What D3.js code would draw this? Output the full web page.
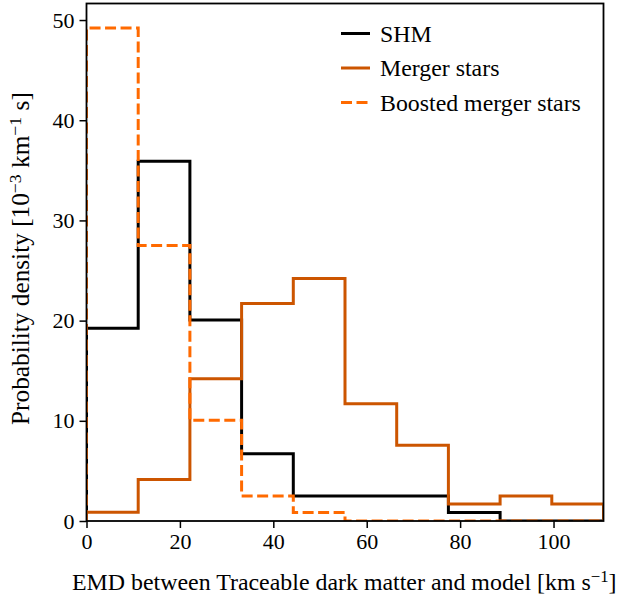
<!DOCTYPE html>
<html><head><meta charset="utf-8">
<script src="https://cdn.jsdelivr.net/npm/d3@7"></script>
<style>body{margin:0;background:#fff}svg{display:block}</style>
</head><body>
<script>
const binEdges = [0, 11.07, 22.14, 33.21, 44.28, 55.35, 66.42, 77.49, 88.56, 99.63, 110.7];
const shmValues = [19.25, 35.9, 20.05, 6.7, 2.5, 2.5, 2.5, 0.85, 0, 0];
const mergerValues = [0.87, 4.15, 14.2, 21.7, 24.2, 11.7, 7.55, 1.7, 2.5, 1.7];
const boostedValues = [49.2, 27.5, 10.05, 2.5, 0.85, 0, 0, 0, 0, 0];
const xTicks = [0, 20, 40, 60, 80, 100];
const yTicks = [0, 10, 20, 30, 40, 50];
const seriesNames = ["SHM", "Merger stars", "Boosted merger stars"];

const W = 621, H = 599;
const m = {l: 86.5, r: 603.5, t: 3.5, b: 521};
const svg = d3.select("body").append("svg").attr("width", W).attr("height", H);
const FONT = '"Liberation Serif"';

const x = d3.scaleLinear().domain([0, 110.7]).range([m.l, m.r]);
const y = d3.scaleLinear().domain([0, 51.65]).range([m.b, m.t]);

svg.append("defs").append("clipPath").attr("id", "clip")
  .append("rect").attr("x", m.l).attr("y", m.t).attr("width", m.r - m.l).attr("height", m.b - m.t);

function stepPts(vals) {
  const pts = [[binEdges[0], 0]];
  vals.forEach((v, i) => { pts.push([binEdges[i], v]); pts.push([binEdges[i + 1], v]); });
  pts.push([binEdges[binEdges.length - 1], 0]);
  return pts;
}
const line = d3.line().x(d => x(d[0])).y(d => y(d[1]));

const series = [
  {vals: shmValues, color: "#000000", dash: null},
  {vals: mergerValues, color: "#cc5500", dash: null},
  {vals: boostedValues, color: "#ff6a00", dash: "11,4.5"}
];
const g = svg.append("g").attr("clip-path", "url(#clip)");
series.forEach(s => {
  g.append("path").attr("d", line(stepPts(s.vals)))
    .attr("fill", "none").attr("stroke", s.color).attr("stroke-width", 3)
    .attr("stroke-linejoin", "miter").attr("stroke-dasharray", s.dash);
});

// axes
const xAxis = d3.axisBottom(x).tickValues(xTicks).tickSize(7).tickPadding(5).tickFormat(d3.format("d"));
const yAxis = d3.axisLeft(y).tickValues(yTicks).tickSize(7).tickPadding(5).tickFormat(d3.format("d"));
const gx = svg.append("g").attr("transform", `translate(0,${m.b})`).call(xAxis);
const gy = svg.append("g").attr("transform", `translate(${m.l},0)`).call(yAxis);
[gx, gy].forEach(a => {
  a.select(".domain").remove();
  a.selectAll(".tick line").attr("stroke", "#000").attr("stroke-width", 1.5);
  a.selectAll(".tick text").style("font-family", FONT).style("font-size", "22px").attr("fill", "#000");
});
svg.append("rect").attr("x", m.l).attr("y", m.t).attr("width", m.r - m.l).attr("height", m.b - m.t)
  .attr("fill", "none").attr("stroke", "#000").attr("stroke-width", 1.8);

function fitText(t, target, base) {
  const len = t.node().getComputedTextLength();
  const fs = base * target / len;
  t.style("font-size", fs + "px");
  t.selectAll("tspan.sup").style("font-size", (fs * 0.7) + "px");
}

// labels
const xl = svg.append("text").attr("x", 72).attr("y", 590)
  .style("font-family", FONT).style("font-size", "20px");
xl.append("tspan").text("EMD between Traceable dark matter and model [km s");
xl.append("tspan").attr("class", "sup").style("font-size", "14px").attr("dy", -8).text("\u22121");
xl.append("tspan").attr("dy", 8).text("]");
fitText(xl, 545, 20);

const yl = svg.append("text").attr("transform", `translate(29,425) rotate(-90)`)
  .style("font-family", FONT).style("font-size", "20px");
yl.append("tspan").text("Probability density [10");
yl.append("tspan").attr("class", "sup").style("font-size", "14px").attr("dy", -8).text("\u22123");
yl.append("tspan").attr("dy", 8).text(" km");
yl.append("tspan").attr("class", "sup").style("font-size", "14px").attr("dy", -8).text("\u22121");
yl.append("tspan").attr("dy", 8).text(" s]");
fitText(yl, 333, 20);

// legend
const leg = svg.append("g");
const legTexts = [];
seriesNames.forEach((n, i) => {
  const yy = 33.5 + i * 34.5;
  leg.append("line").attr("x1", 341).attr("x2", 370).attr("y1", yy).attr("y2", yy)
    .attr("stroke", series[i].color).attr("stroke-width", 3).attr("stroke-dasharray", series[i].dash);
  legTexts.push(leg.append("text").attr("x", 380).attr("y", yy + 8).style("font-family", FONT).style("font-size", "20px").text(n));
});
const bl = legTexts[2].node().getComputedTextLength();
const legFs = 20 * 201 / bl;
legTexts.forEach(t => t.style("font-size", legFs + "px"));
</script>
</body></html>
